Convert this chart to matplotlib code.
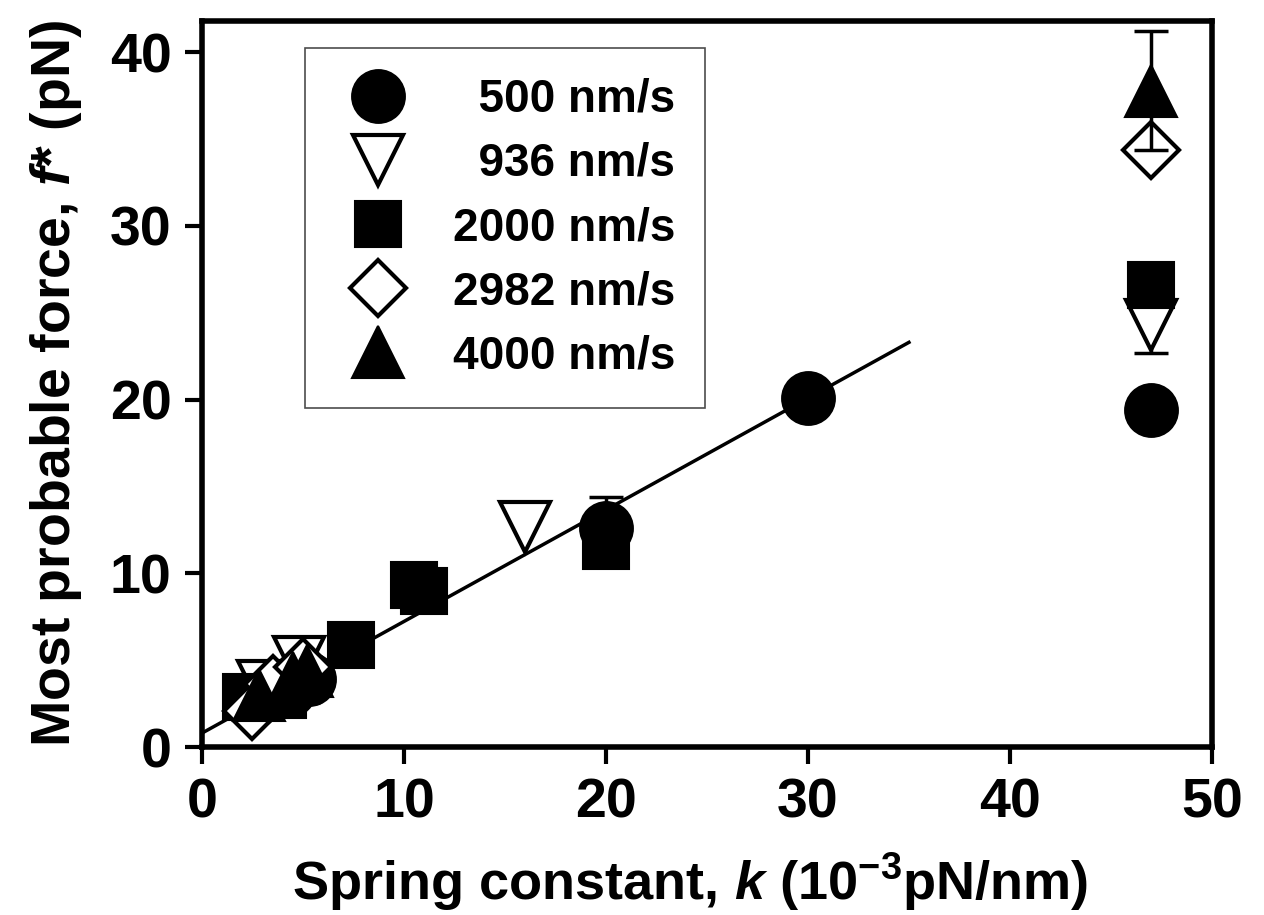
import matplotlib
matplotlib.use("Agg")
import matplotlib.pyplot as plt

plt.rcParams["font.family"] = ["Liberation Sans", "DejaVu Sans"]
plt.rcParams["font.weight"] = "bold"
plt.rcParams["mathtext.fontset"] = "custom"
plt.rcParams["mathtext.rm"] = "Liberation Sans:bold"
plt.rcParams["mathtext.it"] = "Liberation Sans:bold:italic"
plt.rcParams["mathtext.bf"] = "Liberation Sans:bold"

# most probable force vs spring constant, one series per pulling speed
labels = ["\u2007500 nm/s", "\u2007936 nm/s", "2000 nm/s", "2982 nm/s", "4000 nm/s"]

k_500 = [2.5, 4.3, 5.3, 20.0, 30.0, 47.0]
f_500 = [2.6, 3.3, 3.9, 12.6, 20.1, 19.4]

k_936 = [3.0, 4.8, 16.0, 47.0]
f_936 = [3.5, 4.9, 12.65, 24.3]

k_2000 = [2.2, 4.0, 7.4, 10.5, 11.0, 20.0, 47.0]
f_2000 = [2.9, 3.0, 5.9, 9.3, 9.0, 11.6, 26.6]

k_2982 = [2.5, 3.5, 5.0, 47.0]
f_2982 = [2.1, 3.6, 4.6, 34.4]

k_4000 = [2.8, 4.5, 5.2, 47.0]
f_4000 = [3.0, 4.0, 4.4, 37.8]

# points that carry visible error bars (one per series)
err_500 = (20.0, 12.6, 1.8)
err_936 = (47.0, 24.3, 1.6)
err_4000 = (47.0, 37.8, 3.4)

# linear fit line
fit_k = [0.0, 35.0]
fit_f = [0.8, 23.3]

fig = plt.figure(figsize=(12.64, 9.15), dpi=100)
ax = fig.add_axes([0.1598, 0.1836, 0.799, 0.7934])

ax.plot(fit_k, fit_f, color="black", lw=2.5, zorder=2)


def add_err(e, z):
    ax.errorbar([e[0]], [e[1]], yerr=[e[2]], fmt="none", ecolor="black",
                elinewidth=2.5, capsize=12, capthick=2.5, zorder=z)


add_err(err_500, 2.9)
ax.plot(k_500, f_500, "o", ms=38, mfc="black", mec="black", mew=1.5,
        ls="none", label=labels[0], zorder=3)
add_err(err_936, 3.9)
ax.plot(k_936, f_936, "v", ms=36, mfc="white", mec="black", mew=3,
        ls="none", label=labels[1], zorder=4)
ax.plot(k_2000, f_2000, "s", ms=33, mfc="black", mec="black", mew=1.5,
        ls="none", label=labels[2], zorder=5)
ax.plot(k_2982, f_2982, "D", ms=29, mfc="white", mec="black", mew=3,
        ls="none", label=labels[3], zorder=6)
ax.plot(k_4000, f_4000, "^", ms=38, mfc="black", mec="black", mew=1.5,
        ls="none", label=labels[4], zorder=7)
add_err(err_4000, 8)

ax.set_xlim(0, 50)
ax.set_ylim(0, 41.8)
ax.set_xticks([0, 10, 20, 30, 40, 50])
ax.set_yticks([0, 10, 20, 30, 40])

for s in ax.spines.values():
    s.set_linewidth(4)
ax.tick_params(direction="out", length=12, width=3, labelsize=40, pad=10)

ax.set_xlabel(r"Spring constant, $\it{k}$ (10$^{-3}$pN/nm)", fontsize=39,
              fontweight="bold")
ax.set_ylabel(r"Most probable force, $\it{f}$* (pN)", fontsize=40,
              fontweight="bold")
ax.xaxis.set_label_coords(0.483, -0.143)
ax.yaxis.set_label_coords(-0.117, 0.5)

leg = ax.legend(loc="upper left", bbox_to_anchor=(0.102, 0.963),
                borderaxespad=0, fontsize=33, numpoints=1, handlelength=1.9,
                handletextpad=0.68, borderpad=0.65, labelspacing=0.44,
                fancybox=False, framealpha=1, edgecolor="0.3")
leg.get_frame().set_linewidth(1.2)

fig.savefig("out.png", dpi=100)
